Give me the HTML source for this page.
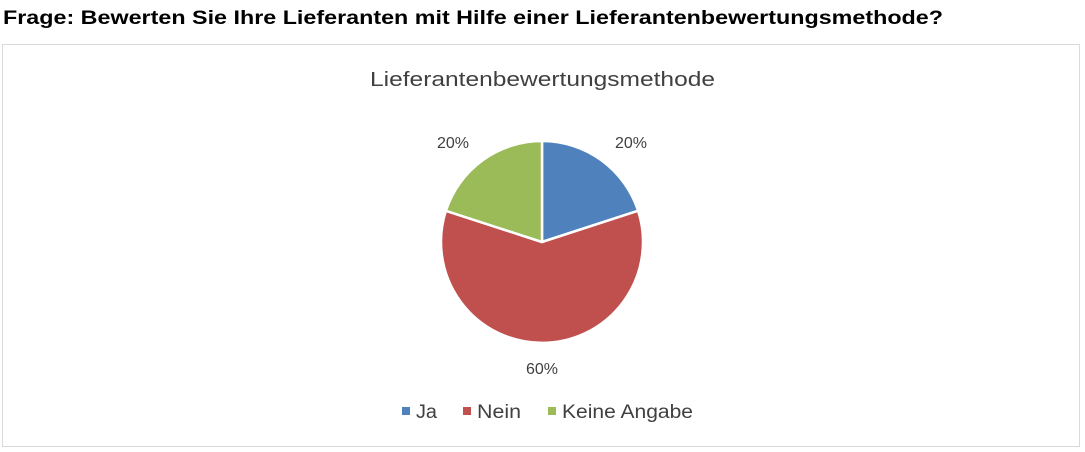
<!DOCTYPE html>
<html><head><meta charset="utf-8"><style>
html,body{margin:0;padding:0;background:#fff;width:1085px;height:452px;overflow:hidden;font-family:"Liberation Sans",sans-serif}
</style></head><body>
<svg width="1085" height="452" xmlns="http://www.w3.org/2000/svg" style="position:absolute;left:0;top:0">
<text x="3" y="24" font-family="Liberation Sans, sans-serif" font-weight="bold" font-size="19" fill="#000" textLength="940" lengthAdjust="spacingAndGlyphs">Frage: Bewerten Sie Ihre Lieferanten mit Hilfe einer Lieferantenbewertungsmethode?</text>
<rect x="2.5" y="44.5" width="1077" height="402" fill="#fff" stroke="#d9d9d9" stroke-width="1"/>
<text x="370" y="86" font-family="Liberation Sans, sans-serif" font-size="20" fill="#404040" textLength="345" lengthAdjust="spacingAndGlyphs">Lieferantenbewertungsmethode</text>
<g stroke="#fff" stroke-width="2.5" stroke-linejoin="round">
<path d="M542,242 L542,141 A101,101 0 0 1 638.1,210.8 Z" fill="#4f81bd"/>
<path d="M542,242 L638.1,210.8 A101,101 0 1 1 445.9,210.8 Z" fill="#c0504d"/>
<path d="M542,242 L445.9,210.8 A101,101 0 0 1 542,141 Z" fill="#9bbb59"/>
</g>
<g font-family="Liberation Sans, sans-serif" font-size="16" fill="#404040" text-anchor="middle">
<text x="631" y="148">20%</text>
<text x="453" y="148">20%</text>
<text x="542" y="374">60%</text>
</g>
<g font-family="Liberation Sans, sans-serif" font-size="19" fill="#404040">
<rect x="402" y="407" width="8" height="8" fill="#4f81bd"/><text x="416" y="418" textLength="21" lengthAdjust="spacingAndGlyphs">Ja</text>
<rect x="463" y="407" width="8" height="8" fill="#c0504d"/><text x="477" y="418" textLength="44" lengthAdjust="spacingAndGlyphs">Nein</text>
<rect x="548" y="407" width="8" height="8" fill="#9bbb59"/><text x="562" y="418" textLength="131" lengthAdjust="spacingAndGlyphs">Keine Angabe</text>
</g>
</svg>
</body></html>
